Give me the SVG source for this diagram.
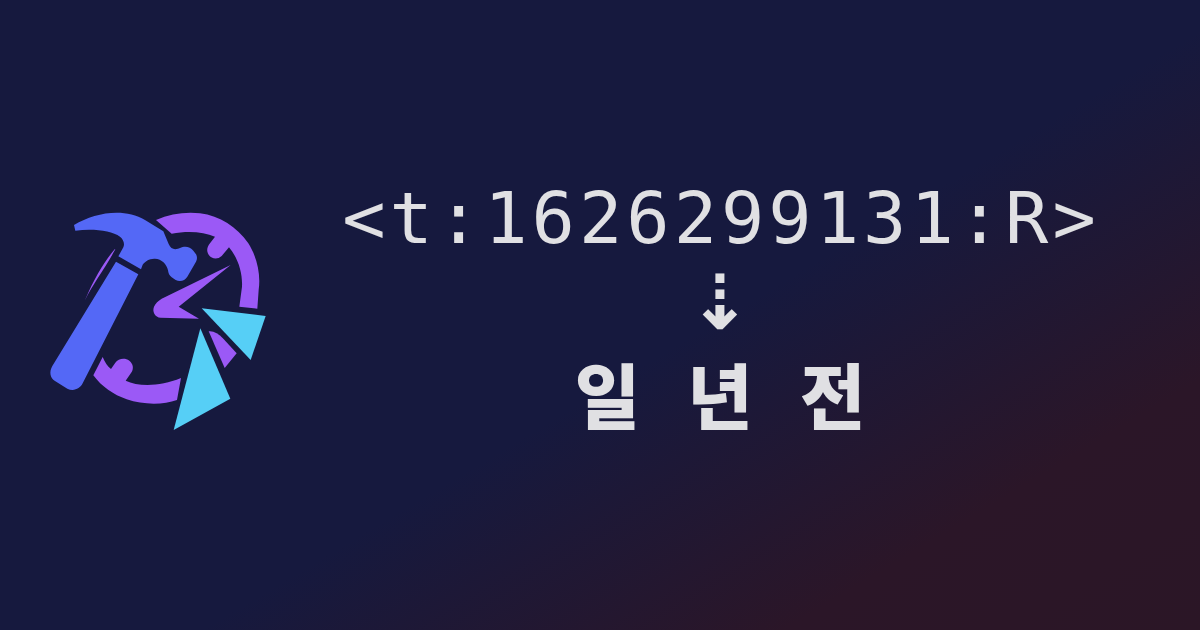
<svg xmlns="http://www.w3.org/2000/svg" width="1200" height="630" viewBox="0 0 1200 630">
<defs>
<linearGradient id="bg" gradientUnits="userSpaceOnUse" x1="0" y1="0" x2="596" y2="993">
<stop offset="0" stop-color="#16193e"/><stop offset="0.556" stop-color="#16193e"/><stop offset="0.815" stop-color="#2b1628"/><stop offset="1" stop-color="#2b1626"/>
</linearGradient>
</defs>
<style>
.hammer{fill:#5468f6}.clock{fill:#9b59f6}.shard{fill:#56cff6}
.t{fill:#e0e0e3;text-anchor:middle}
</style>
<rect width="1200" height="630" fill="url(#bg)"/>
<g id="logo" transform="translate(30 190) scale(.33333)">
<path class="hammer" d="M132 105C170 82 215 68 260 68C290 68 320 75 345 90L400 124L416 162C422 176 432 180 444 176L458 171C470 168 482 172 490 182L498 193C502 200 502 208 498 215L472 260C465 272 450 277 437 270L425 262C418 257 415 250 414 241C410 222 395 207 375 206C358 205 346 214 338 224L333 238L265 199L280 172C285 160 280 148 270 140C245 122 190 115 136 122Z"/>
<path class="hammer" d="M258 215L325 253L158 580C150 597 130 605 112 596L75 573C60 564 57 545 67 528Z"/>
<path class="clock" d="M378 90C420 72 465 65 510 70C570 78 620 110 655 160C680 200 693 250 686 300L682 356L628 350L636 290C638 250 625 205 597 172L575 198C562 210 545 207 536 194C528 182 532 170 540 160L555 140C520 124 470 122 425 131Z"/>
<path class="clock" d="M254 178C225 212 195 260 165 330C190 280 225 235 256 178Z"/>
<path class="clock" d="M602 225L446 350L507 386L392 383C375 382 366 365 372 350C376 340 385 332 395 326Z"/>
<path class="clock" d="M536 424C550 422 565 430 580 446L620 490L584 534Z"/>
<path class="clock" d="M218 501C225 516 232 530 243 537L256 518C265 505 285 502 298 512C310 522 311 535 305 546L287 572C325 590 390 590 453 564L441 630C400 645 340 645 290 628C250 614 215 590 190 556Z"/>
<path class="shard" d="M515 355L707 378L662 510Z"/>
<path class="shard" d="M511 415L601 626L431 720Z"/>
</g>
<g id="timestamp"><text class="t" x="721" y="243" font-family="'DejaVu Sans Mono',monospace" font-size="72" letter-spacing="4">&lt;t:1626299131:R&gt;</text></g>
<g id="arrow"><text class="t" x="720" y="329" font-family="'DejaVu Sans',sans-serif" font-weight="700" font-size="76">⇣</text></g>
<g id="relative"><text class="t" x="720" y="423" font-family="'Noto Sans CJK KR',sans-serif" font-weight="900" font-size="71" word-spacing="31">일 년 전</text></g>
</svg>
